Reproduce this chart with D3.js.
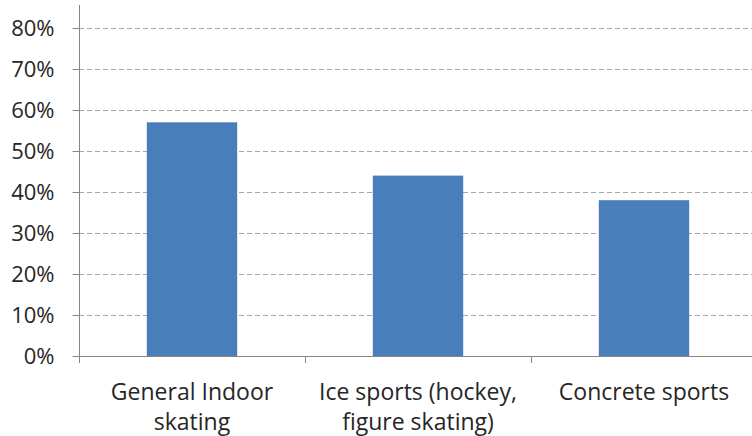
<!DOCTYPE html>
<html><head><meta charset="utf-8">
<script src="https://cdn.jsdelivr.net/npm/d3@7"></script>
<style>body{margin:0;background:#fff}svg{display:block}</style>
</head><body>
<svg id="c" width="752" height="436"></svg>
<script>
const categories = [["General Indoor","skating"],["Ice sports (hockey,","figure skating)"],["Concrete sports"]];
const values = [0.57, 0.44, 0.38];
const yTicks = [0,0.1,0.2,0.3,0.4,0.5,0.6,0.7,0.8];

const svg = d3.select("#c");
const left = 79, right = 757, y0 = 356, y80 = 28;
const x = d3.scaleBand().domain(d3.range(categories.length)).range([left, right]).paddingInner(0.6).paddingOuter(0.3);
const y = d3.scaleLinear().domain([0, 0.8]).range([y0, y80]);
const font = "'Open Sans', sans-serif";

// gridlines
svg.append("g").selectAll("line").data(yTicks.filter(d=>d>0)).join("line")
  .attr("x1", left).attr("x2", 752).attr("y1", d=>Math.round(y(d))+0.5).attr("y2", d=>Math.round(y(d))+0.5)
  .attr("stroke", "#a6a6a6").attr("stroke-dasharray", "5,3").attr("stroke-width", 1);

// bars
svg.append("g").selectAll("rect").data(values).join("rect")
  .attr("x", (d,i)=>x(i)).attr("width", x.bandwidth())
  .attr("y", d=>y(d)).attr("height", d=>y0 - y(d))
  .attr("fill", "#4a7ebb");

// y axis
const ya = d3.axisLeft(y).tickValues(yTicks).tickFormat(d3.format(".0%")).tickSize(7).tickPadding(18);
const gy = svg.append("g").attr("transform", `translate(${left+0.5},0)`).call(ya);
gy.select(".domain").remove();
gy.append("line").attr("x1",0).attr("x2",0).attr("y1",5).attr("y2",y0).attr("stroke","#868686");
gy.selectAll(".tick line").attr("stroke","#868686");
gy.selectAll(".tick text").attr("font-family", font).attr("font-size", 22).attr("fill", "#262626");

// x axis
svg.append("line").attr("x1", left).attr("x2", 752).attr("y1", y0+0.5).attr("y2", y0+0.5).attr("stroke", "#868686");
svg.append("g").selectAll("line").data([1,2]).join("line")
  .attr("x1", i=>Math.round(x(i) - x.step()*x.paddingInner()/2)+0.5)
  .attr("x2", i=>Math.round(x(i) - x.step()*x.paddingInner()/2)+0.5)
  .attr("y1", y0).attr("y2", y0+7).attr("stroke", "#868686");
svg.append("line").attr("x1", left+0.5).attr("x2", left+0.5).attr("y1", y0).attr("y2", y0+7).attr("stroke", "#868686");

const lab = svg.append("g").selectAll("text").data(categories).join("text")
  .attr("text-anchor","middle").attr("font-family", font).attr("font-size", 23).attr("fill","#262626")
  .attr("transform", (d,i)=>`translate(${x(i)+x.bandwidth()/2},400)`);
lab.selectAll("tspan").data(d=>d).join("tspan").attr("x",0).attr("dy",(d,i)=>i?30:0).text(d=>d);
</script>
</body></html>
